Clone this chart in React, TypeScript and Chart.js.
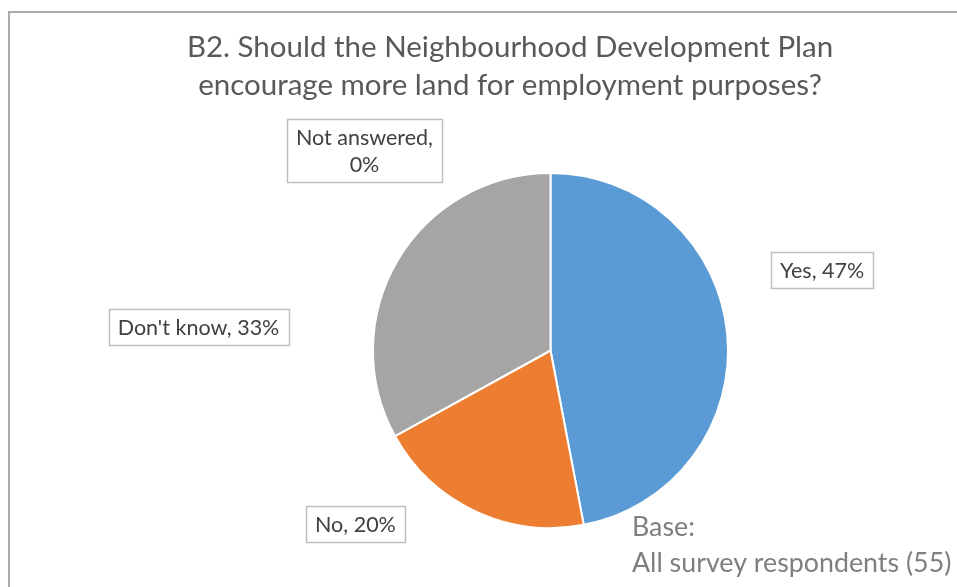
import React, { useEffect, useRef } from "react";
import { Chart, registerables } from "chart.js";

Chart.register(...registerables);

const categories = ["Yes", "No", "Don't know", "Not answered"];
const percentValues = [47, 20, 33, 0];
const sliceColors = ["#5B9BD5", "#ED7D31", "#A5A5A5", "#FFC000"];
const titleLines = [
  "B2. Should the Neighbourhood Development Plan",
  "encourage more land for employment purposes?",
];
const baseLines = ["Base:", "All survey respondents (55)"];

// label anchor offsets, in units of the pie radius from the pie centre
const labelOffsets = [
  [1.53, -0.453],
  [-1.099, 0.975],
  [-1.983, -0.13],
  [-1.048, -1.127],
];

const FONT = "Lato, 'Open Sans', sans-serif";

const decorPlugin = {
  id: "decor",
  afterDraw(chart: any) {
    const ctx = chart.ctx as CanvasRenderingContext2D;
    ctx.save();
    // outer frame
    ctx.strokeStyle = "#ABABAB";
    ctx.lineWidth = 2;
    ctx.beginPath();
    ctx.moveTo(9, 1000);
    ctx.lineTo(9, 12);
    ctx.lineTo(2000, 12);
    ctx.stroke();

    // title
    ctx.fillStyle = "#595959";
    ctx.font = `29.5px ${FONT}`;
    ctx.textAlign = "center";
    ctx.textBaseline = "alphabetic";
    titleLines.forEach((t, i) => ctx.fillText(t, 510, 57 + i * 38));

    // base note
    ctx.fillStyle = "#7F7F7F";
    ctx.font = `26.8px ${FONT}`;
    ctx.textAlign = "left";
    baseLines.forEach((t, i) => ctx.fillText(t, 632, 536 + i * 36));

    // data labels
    const meta = chart.getDatasetMeta(0);
    ctx.font = `21.5px ${FONT}`;
    meta.data.forEach((arc: any, i: number) => {
      const r = arc.outerRadius;
      const cx = arc.x + labelOffsets[i][0] * r;
      const cy = arc.y + labelOffsets[i][1] * r;
      const full = `${categories[i]}, ${percentValues[i]}%`;
      const lines =
        categories[i].length > 10
          ? [`${categories[i]},`, `${percentValues[i]}%`]
          : [full];
      const lh = 27;
      const w = Math.max(...lines.map((l) => ctx.measureText(l).width)) + 18;
      const h = lines.length * lh + 9;
      ctx.fillStyle = "#FFFFFF";
      ctx.fillRect(cx - w / 2, cy - h / 2, w, h);
      ctx.strokeStyle = "#BFBFBF";
      ctx.lineWidth = 1.5;
      ctx.strokeRect(Math.round(cx - w / 2) + 0.5, Math.round(cy - h / 2) + 0.5, Math.round(w), Math.round(h));
      ctx.fillStyle = "#404040";
      ctx.textAlign = "center";
      ctx.textBaseline = "middle";
      lines.forEach((l, j) => {
        ctx.fillText(l, cx, cy - ((lines.length - 1) * lh) / 2 + j * lh + 1);
      });
    });
    ctx.restore();
  },
};

export default function App() {
  const ref = useRef<HTMLCanvasElement>(null);
  useEffect(() => {
    document.body.style.overflow = "hidden";
    const chart = new Chart(ref.current!, {
      type: "pie",
      data: {
        labels: categories,
        datasets: [
          {
            data: percentValues,
            backgroundColor: sliceColors,
            borderColor: "#FFFFFF",
            borderWidth: 2,
          },
        ],
      },
      options: {
        animation: false,
        responsive: false,
        maintainAspectRatio: false,
        layout: { padding: { left: 372, right: 228, top: 172, bottom: 58 } },
        plugins: {
          legend: { display: false },
          title: { display: false },
          tooltip: { enabled: false },
        },
      },
      plugins: [decorPlugin],
    });
    return () => chart.destroy();
  }, []);
  return (
    <canvas
      ref={ref}
      width={957}
      height={587}
      style={{ position: "fixed", left: 0, top: 0, width: 957, height: 587, background: "#fff" }}
    />
  );
}
